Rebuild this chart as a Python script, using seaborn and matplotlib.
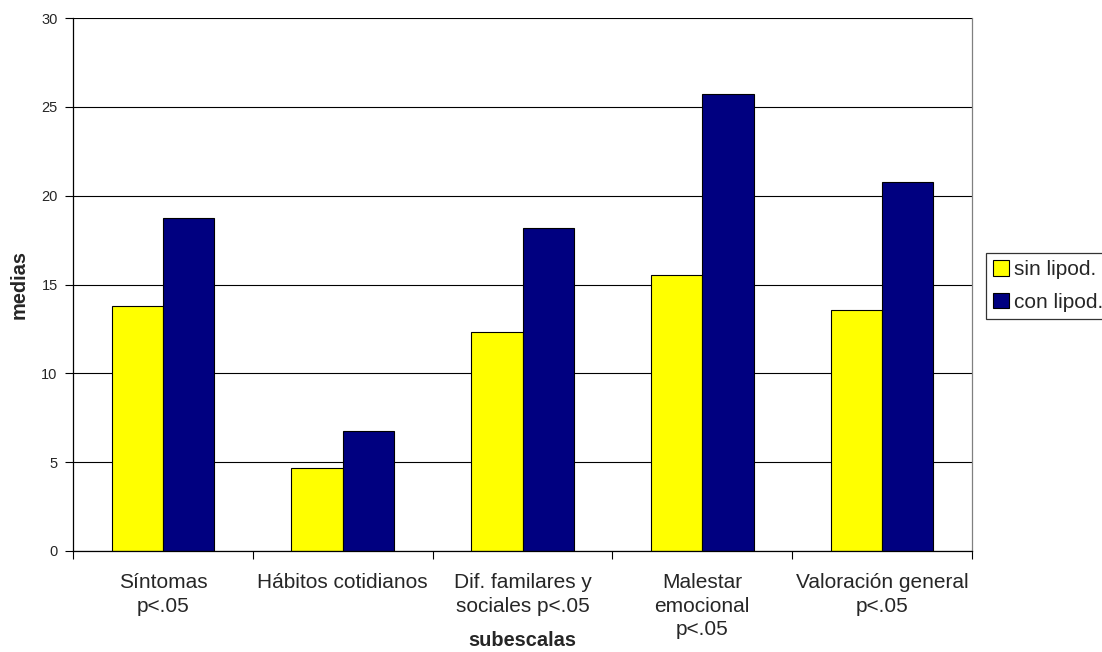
import matplotlib
matplotlib.use("Agg")
import matplotlib.pyplot as plt
from matplotlib.patches import Patch
import seaborn as sns
import pandas as pd

# Subscale categories and group means
categories = [
    "Síntomas\np<.05",
    "Hábitos cotidianos",
    "Dif. familares y\nsociales p<.05",
    "Malestar\nemocional\np<.05",
    "Valoración general\np<.05",
]
groups = ["sin lipod.", "con lipod."]
sin_lipod = [13.8, 4.65, 12.3, 15.55, 13.55]
con_lipod = [18.75, 6.75, 18.2, 25.75, 20.75]
y_ticks = [0, 5, 10, 15, 20, 25, 30]

colors = ["#FFFF00", "#000080"]

df = pd.DataFrame({
    "subescala": categories * 2,
    "grupo": [groups[0]] * len(categories) + [groups[1]] * len(categories),
    "media": sin_lipod + con_lipod,
})

sns.set_style("white")
plt.rcParams["font.family"] = ["Liberation Sans", "DejaVu Sans"]

fig = plt.figure(figsize=(11.02, 6.52), dpi=100)
ax = fig.add_axes([73 / 1102, 1 - 551 / 652, (972 - 73) / 1102, (551 - 18) / 652])

sns.barplot(
    data=df, x="subescala", y="media", hue="grupo",
    order=categories, hue_order=groups, palette=colors,
    width=0.57, gap=0, edgecolor="#000000", linewidth=0.8,
    saturation=1, legend=False, ax=ax,
)

ax.set_ylim(0, 30)
ax.set_xlim(-0.5, len(categories) - 0.5)
ax.set_yticks(y_ticks)
ax.yaxis.grid(True, color="#000000", linewidth=0.8)
ax.set_axisbelow(True)

# Category labels centred, tick marks on category boundaries
ax.set_xticks(range(len(categories)))
ax.set_xticklabels(categories, fontsize=15, linespacing=1.3)
ax.set_xticks([i - 0.5 for i in range(len(categories) + 1)], minor=True)
ax.tick_params(axis="x", which="major", length=0, pad=16)
ax.tick_params(axis="x", which="minor", length=6, width=0.8, color="#000000", direction="out")
ax.tick_params(axis="y", length=6, width=0.8, color="#000000", direction="out",
               labelsize=10.5, pad=5)
ax.tick_params(bottom=True, left=True, which="both")

ax.set_xlabel("subescalas", fontsize=14.4, fontweight="bold")
ax.xaxis.set_label_coords(0.5, -0.151)
ax.set_ylabel("medias", fontsize=14.4, fontweight="bold", labelpad=9)

for side in ["left", "bottom"]:
    ax.spines[side].set_color("#000000")
    ax.spines[side].set_linewidth(0.9)
ax.spines["top"].set_visible(False)
ax.spines["right"].set_color("#808080")
ax.spines["right"].set_linewidth(0.9)

handles = [Patch(facecolor=c, edgecolor="#000000", linewidth=0.8) for c in colors]
leg = fig.legend(
    handles, groups, loc="upper left", bbox_to_anchor=(986 / 1102, 1 - 253 / 652),
    fontsize=15, frameon=True, fancybox=False, edgecolor="#000000",
    handlelength=0.75, handleheight=0.75, handletextpad=0.25,
    borderpad=0.35, labelspacing=0.65, borderaxespad=0,
)
leg.get_frame().set_linewidth(0.9)

fig.savefig("out.png", dpi=100)
